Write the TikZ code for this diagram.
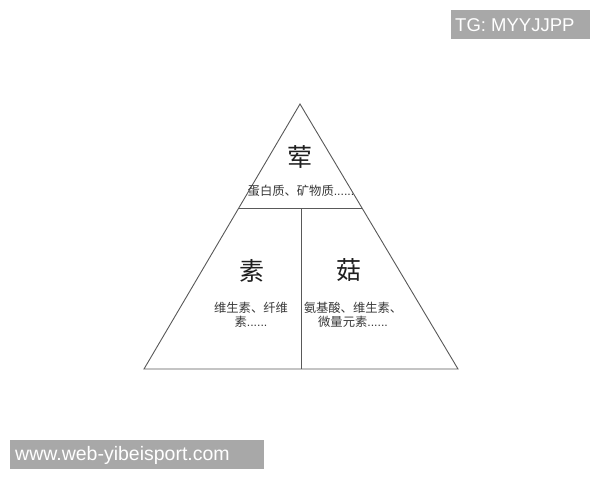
\documentclass[tikz,border=0pt]{standalone}
\usepackage{fontspec}
\setmainfont{Liberation Sans}
\newfontfamily\cjk{Noto Sans CJK SC}
\newcommand{\sixdots}{{\fontspec{Liberation Sans}......}}
\begin{document}
\begin{tikzpicture}[x=1pt,y=-1pt,
  edge/.style={draw=black!65,line width=0.9pt},
  bigchar/.style={font=\cjk\fontsize{25}{28}\selectfont,text=black!88,inner sep=0pt},
  smalltxt/.style={font=\cjk\fontsize{12.3}{14.5}\selectfont,text=black!78,inner sep=0pt,align=center},
  tag/.style={fill=black!34,text=white,inner sep=0pt,anchor=north west}
]
\useasboundingbox (0,0) rectangle (600,480);
\fill[white] (0,0) rectangle (600,480);
\coordinate (apex) at (300,104);
\coordinate (bl) at (144,369);
\coordinate (br) at (458,369);
\coordinate (ml) at (238.8,208);
\coordinate (mr) at (361.8,208);
\coordinate (mid) at (301,208);
\coordinate (midb) at (301,369);
\draw[edge,line join=miter] (apex) -- (br) -- (bl) -- cycle;
\draw[edge] (ml) -- (mr);
\draw[edge] (mid) -- (midb);
\node[bigchar] (hun) at (300,157) {荤};
\node[smalltxt] (hunt) at (301,191) {蛋白质、矿物质\sixdots};
\node[bigchar] (su) at (252,271) {素};
\node[smalltxt] (sut) at (251,315) {维生素、纤维\\素\sixdots};
\node[bigchar] (gu) at (349,270) {菇};
\node[smalltxt] (gut) at (353,315) {氨基酸、维生素、\\微量元素\sixdots};
\node[tag,minimum width=139pt,minimum height=29pt] (tg) at (451,10) {};
\node[text=white,font=\fontsize{18.5}{20}\selectfont,anchor=west,inner sep=0pt] (tgt) at (455,25) {TG: MYYJJPP};
\node[tag,minimum width=254pt,minimum height=29pt] (www) at (10,440) {};
\node[text=white,font=\fontsize{19.5}{22}\selectfont,anchor=west,inner sep=0pt] (wwwt) at (15,455) {www.web-yibeisport.com};
\end{tikzpicture}
\end{document}
